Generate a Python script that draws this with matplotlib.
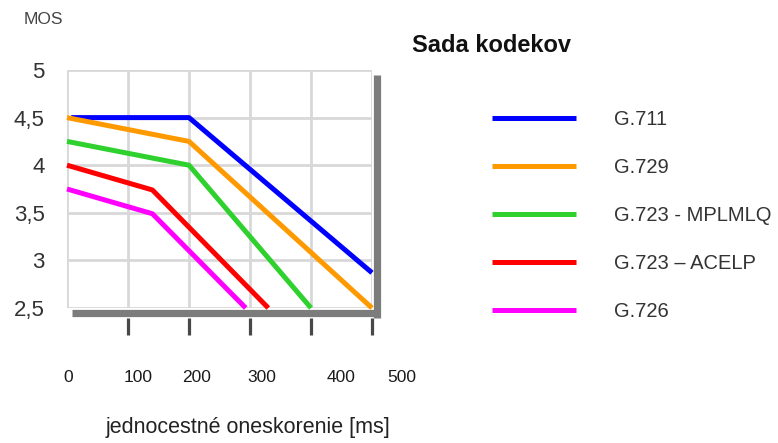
import matplotlib
matplotlib.use("Agg")
import matplotlib.pyplot as plt
from matplotlib.lines import Line2D
from matplotlib.font_manager import FontProperties
import matplotlib.transforms as mtransforms

# ---- data ----
series_names = ["G.711", "G.729", "G.723 - MPLMLQ", "G.723 \u2013 ACELP", "G.726"]
g711_x = [7, 200, 500]
g711_y = [4.5, 4.5, 2.87]
g729_x = [0, 200, 500]
g729_y = [4.5, 4.25, 2.5]
g723m_x = [0, 200, 400]
g723m_y = [4.25, 4.0, 2.5]
g723a_x = [0, 140, 330]
g723a_y = [4.0, 3.74, 2.5]
g726_x = [0, 140, 293]
g726_y = [3.75, 3.49, 2.5]
x_grid = [0, 100, 200, 300, 400, 500]
x_tick_labels = ["0", "100", "200", "300", "400", "500"]
y_ticks = [2.5, 3.0, 3.5, 4.0, 4.5, 5.0]
y_tick_labels = ["2,5", "3", "3,5", "4", "4,5", "5"]

# ---- layout / style ----
W, H = 778, 443
colors = ["#0000ff", "#ff9900", "#2ed12e", "#ff0000", "#ff00ff"]
xlabel_pos = [2, 116, 213, 320, 449, 549]   # where the original places the labels
regular = ["Liberation Sans", "DejaVu Sans"]

fig = plt.figure(figsize=(W / 100, H / 100), dpi=100)
ax = fig.add_axes([67 / W, 1 - 308 / H, 305 / W, 238 / H])
ax.set_xlim(0, 500)
ax.set_ylim(2.5, 5)
for s in ax.spines.values():
    s.set_visible(False)

ax.set_xticks(x_grid)
ax.set_xticklabels([])
ax.set_yticks(y_ticks)
ax.set_yticklabels(y_tick_labels, family=regular, fontsize=16, color="#333333")
ax.tick_params(axis="x", length=0)
ax.tick_params(axis="y", length=0, pad=16)
ax.grid(True, color="#d8d8d8", linewidth=2)
ax.set_axisbelow(True)

xs = [g711_x, g729_x, g723m_x, g723a_x, g726_x]
ys = [g711_y, g729_y, g723m_y, g723a_y, g726_y]
handles = []
for x, y, c, n in zip(xs, ys, colors, series_names):
    (ln,) = ax.plot(x, y, color=c, linewidth=3.6, zorder=4, label=n,
                    solid_capstyle="butt", clip_on=False)
    handles.append(ln)

# shadow bars
ax.add_line(Line2D([0.016, 1.026], [-0.023, -0.023], transform=ax.transAxes,
                   color="#7c7c7c", linewidth=5.2, clip_on=False, zorder=3,
                   solid_capstyle="butt"))
ax.add_line(Line2D([1.0148, 1.0148], [0.979, -0.04], transform=ax.transAxes,
                   color="#7c7c7c", linewidth=5.2, clip_on=False, zorder=3,
                   solid_capstyle="butt"))

# tick marks below the shadow, at the gridlines
trans = mtransforms.blended_transform_factory(ax.transData, ax.transAxes)
for xv in x_grid[1:]:
    ax.add_line(Line2D([xv, xv], [-0.04, -0.113], transform=trans,
                       color="#484848", linewidth=2.3, clip_on=False, zorder=2,
                       solid_capstyle="butt"))

# x tick labels as in original (offset from gridlines)
for xp, lab in zip(xlabel_pos, x_tick_labels):
    ax.text(xp, -0.294, lab, transform=trans, ha="center", va="center",
            family=regular, fontsize=12.5, color="#1a1a1a")

fig.text(248 / W, 1 - 427 / H, "jednocestné oneskorenie [ms]", ha="center",
         va="center", family=regular, fontsize=15.5, color="#222222")
fig.text(43 / W, 1 - 19 / H, "MOS", ha="center", va="center", family=regular,
         fontsize=12.5, color="#444444")
fig.text(492 / W, 1 - 46 / H, "Sada kodekov", ha="center", va="center",
         family=regular, fontsize=17, fontweight="bold", color="#111111")

fig.legend(handles, series_names, loc="upper left",
           bbox_to_anchor=(492 / W, 1 - 110 / H), frameon=False, borderpad=0,
           borderaxespad=0, handlelength=4.15, handletextpad=1.9,
           labelspacing=1.44, labelcolor="#333333",
           prop=FontProperties(family=regular, size=14.5))

fig.savefig("out.png", dpi=100)
